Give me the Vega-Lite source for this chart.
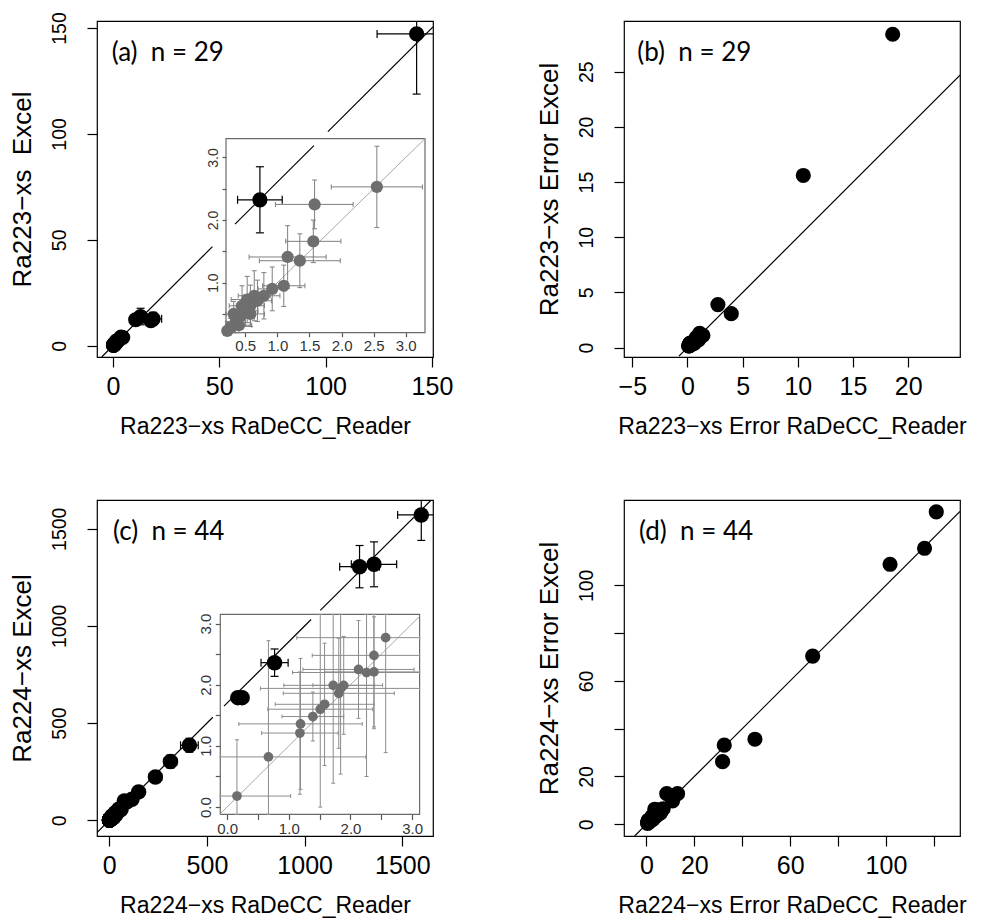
{
  "$schema": "https://vega.github.io/schema/vega-lite/v6.json",
  "background": "white",
  "padding": {"left": 8, "top": 11, "right": 5, "bottom": 5},
  "columns": 2,
  "spacing": {"row": 143, "column": 191},
  "bounds": "flush",
  "datasets": {
    "A": [
      {"x":142.8,"y":147.2,"xlo":124.2,"xhi":161.4,"ylo":118.8,"yhi":175.6},
      {"x":69.1,"y":68.9,"xlo":58.6,"xhi":79.6,"ylo":53.3,"yhi":84.5},
      {"x":10.7,"y":12.3,"xlo":9.3,"xhi":12.1,"ylo":11.2,"yhi":13.4},
      {"x":13.0,"y":13.8,"xlo":10.2,"xhi":15.8,"ylo":9.9,"yhi":17.7},
      {"x":18.9,"y":12.7,"xlo":14.9,"xhi":22.9,"ylo":9.6,"yhi":15.8},
      {"x":17.8,"y":11.9,"xlo":16.7,"xhi":18.9,"ylo":10.6,"yhi":13.2},
      {"x":3.8,"y":4.1,"xlo":3.0,"xhi":4.6,"ylo":3.2,"yhi":5.0},
      {"x":4.6,"y":3.9,"xlo":3.6,"xhi":5.6,"ylo":3.2,"yhi":4.6},
      {"x":2.55,"y":2.53,"xlo":1.84,"xhi":3.26,"ylo":1.88,"yhi":3.18},
      {"x":1.58,"y":2.25,"xlo":0.97,"xhi":2.18,"ylo":1.86,"yhi":2.64},
      {"x":1.56,"y":1.66,"xlo":1.13,"xhi":1.99,"ylo":1.32,"yhi":2.0},
      {"x":1.16,"y":1.41,"xlo":0.56,"xhi":1.76,"ylo":0.91,"yhi":1.91},
      {"x":1.35,"y":1.35,"xlo":0.72,"xhi":1.98,"ylo":0.92,"yhi":1.78},
      {"x":1.1,"y":0.95,"xlo":0.77,"xhi":1.43,"ylo":0.62,"yhi":1.28},
      {"x":0.92,"y":0.9,"xlo":0.7,"xhi":1.14,"ylo":0.55,"yhi":1.25},
      {"x":0.79,"y":0.79,"xlo":0.54,"xhi":1.04,"ylo":0.42,"yhi":1.16},
      {"x":0.69,"y":0.71,"xlo":0.47,"xhi":0.91,"ylo":0.38,"yhi":1.04},
      {"x":0.58,"y":0.63,"xlo":0.36,"xhi":0.8,"ylo":0.3,"yhi":0.96},
      {"x":0.5,"y":0.55,"xlo":0.3,"xhi":0.7,"ylo":0.3,"yhi":0.8},
      {"x":0.43,"y":0.47,"xlo":0.26,"xhi":0.6,"ylo":0.25,"yhi":0.69},
      {"x":0.35,"y":0.36,"xlo":0.2,"xhi":0.5,"ylo":0.19,"yhi":0.53},
      {"x":0.27,"y":0.28,"xlo":0.15,"xhi":0.39,"ylo":0.13,"yhi":0.43},
      {"x":0.22,"y":0.23,"xlo":0.1,"xhi":0.34,"ylo":0.08,"yhi":0.38},
      {"x":0.64,"y":0.79,"xlo":0.39,"xhi":0.89,"ylo":0.39,"yhi":1.19},
      {"x":0.53,"y":0.73,"xlo":0.28,"xhi":0.78,"ylo":0.36,"yhi":1.1},
      {"x":0.45,"y":0.63,"xlo":0.25,"xhi":0.65,"ylo":0.31,"yhi":0.95},
      {"x":0.32,"y":0.5,"xlo":0.15,"xhi":0.49,"ylo":0.3,"yhi":0.7},
      {"x":0.4,"y":0.32,"xlo":0.2,"xhi":0.6,"ylo":0.15,"yhi":0.49},
      {"x":0.58,"y":0.5,"xlo":0.36,"xhi":0.8,"ylo":0.3,"yhi":0.7}
    ],
    "B": [
      {"x":18.6,"y":28.4},{"x":10.5,"y":15.6},{"x":1.4,"y":1.1},{"x":2.76,"y":3.9},{"x":3.97,"y":3.08},
      {"x":1.1,"y":1.3},{"x":0.8,"y":0.9},{"x":1.0,"y":0.7},{"x":0.71,"y":0.65},{"x":0.6,"y":0.39},
      {"x":0.43,"y":0.34},{"x":0.6,"y":0.5},{"x":0.63,"y":0.43},{"x":0.33,"y":0.33},{"x":0.22,"y":0.35},
      {"x":0.25,"y":0.37},{"x":0.22,"y":0.33},{"x":0.22,"y":0.33},{"x":0.2,"y":0.25},{"x":0.17,"y":0.22},
      {"x":0.15,"y":0.17},{"x":0.12,"y":0.15},{"x":0.12,"y":0.15},{"x":0.25,"y":0.4},{"x":0.25,"y":0.37},
      {"x":0.2,"y":0.32},{"x":0.17,"y":0.2},{"x":0.2,"y":0.17},{"x":0.22,"y":0.2}
    ],
    "C": [
      {"x":1597,"y":1571,"xlo":1476,"xhi":1718,"ylo":1440,"yhi":1702},
      {"x":1355,"y":1317,"xlo":1239,"xhi":1471,"ylo":1201.5,"yhi":1432.5},
      {"x":1281,"y":1305,"xlo":1179.3,"xhi":1382.7,"ylo":1196.2,"yhi":1413.8},
      {"x":846,"y":811,"xlo":776.6,"xhi":915.4,"ylo":740.6,"yhi":881.4},
      {"x":658,"y":631,"xlo":652,"xhi":664,"ylo":626.1,"yhi":635.9},
      {"x":680,"y":631,"xlo":676.5,"xhi":683.5,"ylo":624.7,"yhi":637.3},
      {"x":410,"y":386,"xlo":364.7,"xhi":455.3,"ylo":350.4,"yhi":421.6},
      {"x":313,"y":302,"xlo":280.5,"xhi":345.5,"ylo":268.9,"yhi":335.1},
      {"x":236,"y":223,"xlo":204.2,"xhi":267.8,"ylo":196.8,"yhi":249.2},
      {"x":150,"y":146,"xlo":137,"xhi":163,"ylo":133.2,"yhi":158.8},
      {"x":116,"y":108,"xlo":105.1,"xhi":126.9,"ylo":98.2,"yhi":117.8},
      {"x":77,"y":99,"xlo":68.5,"xhi":85.5,"ylo":86.2,"yhi":111.8},
      {"x":48,"y":57,"xlo":46.9,"xhi":49.1,"ylo":55.6,"yhi":58.4},
      {"x":31,"y":39,"xlo":26.5,"xhi":35.5,"ylo":33.5,"yhi":44.5},
      {"x":22,"y":14,"xlo":19.2,"xhi":24.8,"ylo":11.8,"yhi":16.2},
      {"x":14,"y":22,"xlo":11.8,"xhi":16.2,"ylo":19,"yhi":25},
      {"x":5,"y":5,"xlo":3.8,"xhi":6.2,"ylo":3.5,"yhi":6.5},
      {"x":3,"y":4,"xlo":1.5,"xhi":4.5,"ylo":2.8,"yhi":5.2},
      {"x":6,"y":5,"xlo":4,"xhi":8,"ylo":3.2,"yhi":6.8},
      {"x":8,"y":10,"xlo":6.2,"xhi":9.8,"ylo":7.6,"yhi":12.4},
      {"x":10,"y":8,"xlo":7.5,"xhi":12.5,"ylo":5.9,"yhi":10.1},
      {"x":12,"y":15,"xlo":9,"xhi":15,"ylo":11.4,"yhi":18.6},
      {"x":18,"y":20,"xlo":14.2,"xhi":21.8,"ylo":16.8,"yhi":23.2},
      {"x":25,"y":22,"xlo":20.8,"xhi":29.2,"ylo":17.2,"yhi":26.8},
      {"x":35,"y":30,"xlo":29.8,"xhi":40.2,"ylo":25.6,"yhi":34.4},
      {"x":40,"y":45,"xlo":34.5,"xhi":45.5,"ylo":39,"yhi":51},
      {"x":60,"y":55,"xlo":53,"xhi":67,"ylo":48.5,"yhi":61.5},
      {"x":90,"y":95,"xlo":87.6,"xhi":92.4,"ylo":91.7,"yhi":98.3},
      {"x":0.16,"y":0.18,"xlo":-0.71,"xhi":1.03,"ylo":-0.74,"yhi":1.10},
      {"x":0.67,"y":0.82,"xlo":-0.91,"xhi":2.25,"ylo":-1.08,"yhi":2.72},
      {"x":1.18,"y":1.21,"xlo":0.56,"xhi":1.80,"ylo":0.21,"yhi":2.21},
      {"x":1.19,"y":1.36,"xlo":0.19,"xhi":2.19,"ylo":0.29,"yhi":2.43},
      {"x":1.39,"y":1.48,"xlo":0.89,"xhi":1.89,"ylo":1.08,"yhi":1.88},
      {"x":1.51,"y":1.60,"xlo":0.66,"xhi":2.36,"ylo":0.0,"yhi":3.2},
      {"x":1.58,"y":1.68,"xlo":0.78,"xhi":2.38,"ylo":0.68,"yhi":2.68},
      {"x":1.72,"y":1.99,"xlo":0.92,"xhi":2.52,"ylo":0.39,"yhi":3.59},
      {"x":1.84,"y":1.94,"xlo":0.54,"xhi":3.14,"ylo":0.54,"yhi":3.34},
      {"x":1.81,"y":1.86,"xlo":0.91,"xhi":2.71,"ylo":0.96,"yhi":2.76},
      {"x":1.89,"y":1.99,"xlo":1.39,"xhi":2.39,"ylo":1.19,"yhi":2.79},
      {"x":2.13,"y":2.25,"xlo":1.23,"xhi":3.03,"ylo":1.45,"yhi":3.05},
      {"x":2.26,"y":2.20,"xlo":1.06,"xhi":3.46,"ylo":0.5,"yhi":3.9},
      {"x":2.38,"y":2.21,"xlo":1.58,"xhi":3.18,"ylo":1.31,"yhi":3.11},
      {"x":2.38,"y":2.48,"xlo":1.38,"xhi":3.38,"ylo":1.28,"yhi":3.68},
      {"x":2.57,"y":2.77,"xlo":1.13,"xhi":4.01,"ylo":0.89,"yhi":4.65}
    ],
    "D": [
      {"x":121,"y":130.7},{"x":116.1,"y":115.5},{"x":101.7,"y":108.8},{"x":69.4,"y":70.4},{"x":6,"y":4.9},
      {"x":3.5,"y":6.3},{"x":45.3,"y":35.6},{"x":32.5,"y":33.1},{"x":31.8,"y":26.2},{"x":13,"y":12.8},
      {"x":10.9,"y":9.8},{"x":8.5,"y":12.8},{"x":1.1,"y":1.4},{"x":4.5,"y":5.5},{"x":2.8,"y":2.2},
      {"x":2.2,"y":3.0},{"x":1.2,"y":1.5},{"x":1.5,"y":1.2},{"x":2.0,"y":1.8},{"x":1.8,"y":2.4},
      {"x":2.5,"y":2.1},{"x":3.0,"y":3.6},{"x":3.8,"y":3.2},{"x":4.2,"y":4.8},{"x":5.2,"y":4.4},
      {"x":5.5,"y":6.0},{"x":7.0,"y":6.5},{"x":2.4,"y":3.3},{"x":0.87,"y":0.92},{"x":1.58,"y":1.9},
      {"x":0.62,"y":1.0},{"x":1.0,"y":1.07},{"x":0.5,"y":0.4},{"x":0.85,"y":1.6},{"x":0.8,"y":1.0},
      {"x":0.8,"y":1.6},{"x":1.3,"y":1.4},{"x":0.9,"y":0.9},{"x":0.5,"y":0.8},{"x":0.9,"y":0.8},
      {"x":1.2,"y":1.7},{"x":0.8,"y":0.9},{"x":1.0,"y":1.2},{"x":1.44,"y":1.88}
    ],
    "lineA": [{"x":-5.3,"x2":46.8},{"x":57.4,"x2":94.5},{"x":101.1,"x2":150.5}],
    "lineB": [{"x":-0.77,"x2":24.7}],
    "lineC": [{"x":-63,"x2":530},{"x":587,"x2":1033},{"x":1080,"x2":1648}],
    "lineD": [{"x":-4.9,"x2":130.9}]
  },
  "concat": [
    {
      "width": 336, "height": 336,
      "resolve": {"scale": {"x": "independent", "y": "independent"}},
      "layer": [
        {
          "layer": [
            {"data": {"values": [{}]}, "mark": {"type": "rect", "fillOpacity": 0, "stroke": "#6a6a6a", "strokeWidth": 1.2},
             "encoding": {
               "x": {"datum": 0.2, "type": "quantitative", "scale": {"domain": [0.2, 3.3], "range": [129, 328], "nice": false, "zero": false, "clamp": true},
                     "axis": {"orient": "bottom", "offset": -24.3, "title": null, "values": [0.5,1,1.5,2,2.5,3], "format": ".1f", "labelFontSize": 15, "labelColor": "#333", "tickColor": "#555", "tickSize": 4, "labelPadding": 2, "domain": false}},
               "x2": {"datum": 3.3},
               "y": {"datum": 0.2, "type": "quantitative", "scale": {"domain": [0.2, 3.3], "range": [311.7, 117.7], "nice": false, "zero": false, "clamp": true},
                     "axis": {"orient": "left", "offset": -129, "title": null, "values": [0.5,1,1.5,2,2.5,3], "labelExpr": "datum.value % 1 == 0 ? format(datum.value, '.1f') : ''", "labelFontSize": 14, "labelColor": "#333", "tickColor": "#555", "tickSize": 4, "labelPadding": 2, "domain": false}},
               "y2": {"datum": 3.3}}},
            {"data": {"values": [{}]}, "mark": {"type": "rule", "color": "#a8a8a8", "strokeWidth": 1},
             "encoding": {"x": {"datum": 0.2, "type": "quantitative"}, "x2": {"datum": 3.3}, "y": {"datum": 0.2, "type": "quantitative"}, "y2": {"datum": 3.3}}},
            {"data": {"name": "A"}, "transform": [{"filter": "datum.x <= 3.3 && datum.y <= 3.3"}],
             "mark": {"type": "rule", "color": "#7f7f7f", "strokeWidth": 1},
             "encoding": {"x": {"field": "xlo", "type": "quantitative"}, "x2": {"field": "xhi"}, "y": {"field": "y", "type": "quantitative"}}},
            {"data": {"name": "A"}, "transform": [{"filter": "datum.x <= 3.3 && datum.y <= 3.3"}],
             "mark": {"type": "rule", "color": "#7f7f7f", "strokeWidth": 1},
             "encoding": {"x": {"field": "x", "type": "quantitative"}, "y": {"field": "ylo", "type": "quantitative"}, "y2": {"field": "yhi"}}},
            {"data": {"name": "A"}, "transform": [{"filter": "datum.x <= 3.3 && datum.y <= 3.3"}],
             "mark": {"type": "tick", "orient": "vertical", "size": 5, "thickness": 1, "color": "#7f7f7f", "opacity": 1},
             "encoding": {"x": {"field": "xlo", "type": "quantitative"}, "y": {"field": "y", "type": "quantitative"}}},
            {"data": {"name": "A"}, "transform": [{"filter": "datum.x <= 3.3 && datum.y <= 3.3"}],
             "mark": {"type": "tick", "orient": "vertical", "size": 5, "thickness": 1, "color": "#7f7f7f", "opacity": 1},
             "encoding": {"x": {"field": "xhi", "type": "quantitative"}, "y": {"field": "y", "type": "quantitative"}}},
            {"data": {"name": "A"}, "transform": [{"filter": "datum.x <= 3.3 && datum.y <= 3.3"}],
             "mark": {"type": "tick", "orient": "horizontal", "size": 5, "thickness": 1, "color": "#7f7f7f", "opacity": 1},
             "encoding": {"x": {"field": "x", "type": "quantitative"}, "y": {"field": "ylo", "type": "quantitative"}}},
            {"data": {"name": "A"}, "transform": [{"filter": "datum.x <= 3.3 && datum.y <= 3.3"}],
             "mark": {"type": "tick", "orient": "horizontal", "size": 5, "thickness": 1, "color": "#7f7f7f", "opacity": 1},
             "encoding": {"x": {"field": "x", "type": "quantitative"}, "y": {"field": "yhi", "type": "quantitative"}}},
            {"data": {"name": "A"}, "transform": [{"filter": "datum.x <= 3.3 && datum.y <= 3.3"}],
             "mark": {"type": "circle", "size": 150, "color": "#6e6e6e", "opacity": 1},
             "encoding": {"x": {"field": "x", "type": "quantitative"}, "y": {"field": "y", "type": "quantitative"}}}
          ]
        },
        {
          "layer": [
            {"data": {"name": "lineA"}, "mark": {"type": "rule", "color": "black", "strokeWidth": 1.2, "clip": true},
             "encoding": {
               "x": {"field": "x", "type": "quantitative", "scale": {"domain": [-7.5, 150.5], "nice": false, "zero": false},
                     "axis": {"orient": "bottom", "values": [0, 50, 100, 150], "title": "Ra223−xs RaDeCC_Reader"}},
               "x2": {"field": "x2"},
               "y": {"field": "x", "type": "quantitative", "scale": {"domain": [-5.3, 153.3], "nice": false, "zero": false},
                     "axis": {"orient": "left", "values": [0, 50, 100, 150], "title": "Ra223−xs\u00a0\u00a0Excel"}},
               "y2": {"field": "x2"}}},
            {"data": {"name": "A"}, "mark": {"type": "rule", "color": "black", "strokeWidth": 1.2, "clip": true},
             "encoding": {"x": {"field": "xlo", "type": "quantitative"}, "x2": {"field": "xhi"}, "y": {"field": "y", "type": "quantitative"}}},
            {"data": {"name": "A"}, "mark": {"type": "rule", "color": "black", "strokeWidth": 1.2, "clip": true},
             "encoding": {"x": {"field": "x", "type": "quantitative"}, "y": {"field": "ylo", "type": "quantitative"}, "y2": {"field": "yhi"}}},
            {"data": {"name": "A"}, "mark": {"type": "tick", "orient": "vertical", "size": 8, "thickness": 1.2, "color": "black", "opacity": 1, "clip": true},
             "encoding": {"x": {"field": "xlo", "type": "quantitative"}, "y": {"field": "y", "type": "quantitative"}}},
            {"data": {"name": "A"}, "mark": {"type": "tick", "orient": "vertical", "size": 8, "thickness": 1.2, "color": "black", "opacity": 1, "clip": true},
             "encoding": {"x": {"field": "xhi", "type": "quantitative"}, "y": {"field": "y", "type": "quantitative"}}},
            {"data": {"name": "A"}, "mark": {"type": "tick", "orient": "horizontal", "size": 8, "thickness": 1.2, "color": "black", "opacity": 1, "clip": true},
             "encoding": {"x": {"field": "x", "type": "quantitative"}, "y": {"field": "ylo", "type": "quantitative"}}},
            {"data": {"name": "A"}, "mark": {"type": "tick", "orient": "horizontal", "size": 8, "thickness": 1.2, "color": "black", "opacity": 1, "clip": true},
             "encoding": {"x": {"field": "x", "type": "quantitative"}, "y": {"field": "yhi", "type": "quantitative"}}},
            {"data": {"name": "A"}, "mark": {"type": "circle", "size": 230, "color": "black", "opacity": 1, "clip": true},
             "encoding": {"x": {"field": "x", "type": "quantitative"}, "y": {"field": "y", "type": "quantitative"}}},
            {"data": {"values": [{"label": "(a)\u00a0\u00a0n = 29"}]}, "mark": {"type": "text", "font": "Lato", "fontSize": 26, "align": "left", "baseline": "alphabetic", "color": "black"},
             "encoding": {"x": {"datum": -0.59, "type": "quantitative"}, "y": {"datum": 134.6, "type": "quantitative"}, "text": {"field": "label"}}}
          ]
        }
      ]
    },
    {
      "width": 336, "height": 336,
      "layer": [
        {"data": {"name": "lineB"}, "mark": {"type": "rule", "color": "black", "strokeWidth": 1.2, "clip": true},
         "encoding": {
           "x": {"field": "x", "type": "quantitative", "scale": {"domain": [-5.75, 24.7], "nice": false, "zero": false},
                 "axis": {"orient": "bottom", "values": [-5, 0, 5, 10, 15, 20], "title": "Ra223−xs Error RaDeCC_Reader"}},
           "x2": {"field": "x2"},
           "y": {"field": "x", "type": "quantitative", "scale": {"domain": [-0.85, 29.6], "nice": false, "zero": false},
                 "axis": {"orient": "left", "values": [0, 5, 10, 15, 20, 25], "title": "Ra223−xs Error Excel"}},
           "y2": {"field": "x2"}}},
        {"data": {"name": "B"}, "mark": {"type": "circle", "size": 230, "color": "black", "opacity": 1, "clip": true},
         "encoding": {"x": {"field": "x", "type": "quantitative"}, "y": {"field": "y", "type": "quantitative"}}},
        {"data": {"values": [{"label": "(b)\u00a0\u00a0n = 29"}]}, "mark": {"type": "text", "font": "Lato", "fontSize": 26, "align": "left", "baseline": "alphabetic", "color": "black"},
         "encoding": {"x": {"datum": -4.54, "type": "quantitative"}, "y": {"datum": 26.0, "type": "quantitative"}, "text": {"field": "label"}}}
      ]
    },
    {
      "width": 336, "height": 336,
      "resolve": {"scale": {"x": "independent", "y": "independent"}},
      "layer": [
        {
          "layer": [
            {"data": {"values": [{}]}, "mark": {"type": "rect", "fillOpacity": 0, "stroke": "#6a6a6a", "strokeWidth": 1.2},
             "encoding": {
               "x": {"datum": -0.11, "type": "quantitative", "scale": {"domain": [-0.11, 3.12], "range": [123.3, 322.6], "nice": false, "zero": false, "clamp": true},
                     "axis": {"orient": "bottom", "offset": -21.6, "title": null, "values": [0,0.5,1,1.5,2,2.5,3], "labelExpr": "datum.value % 1 == 0 ? format(datum.value, '.1f') : ''", "labelFontSize": 15, "labelColor": "#333", "tickColor": "#555", "tickSize": 5, "labelPadding": 2, "domain": false}},
               "x2": {"datum": 3.12},
               "y": {"datum": -0.12, "type": "quantitative", "scale": {"domain": [-0.12, 3.15], "range": [314.4, 114.4], "nice": false, "zero": false, "clamp": true},
                     "axis": {"orient": "left", "offset": -123.3, "title": null, "values": [0,0.5,1,1.5,2,2.5,3], "labelExpr": "datum.value % 1 == 0 ? format(datum.value, '.1f') : ''", "labelFontSize": 15, "labelColor": "#333", "tickColor": "#555", "tickSize": 5, "labelPadding": 2, "domain": false}},
               "y2": {"datum": 3.15}}},
            {"data": {"values": [{}]}, "mark": {"type": "rule", "color": "#a8a8a8", "strokeWidth": 1},
             "encoding": {"x": {"datum": -0.11, "type": "quantitative"}, "x2": {"datum": 3.12}, "y": {"datum": -0.11, "type": "quantitative"}, "y2": {"datum": 3.12}}},
            {"data": {"name": "C"}, "transform": [{"filter": "datum.x <= 3.2 && datum.y <= 3.2"}],
             "mark": {"type": "rule", "color": "#8c8c8c", "strokeWidth": 1},
             "encoding": {"x": {"field": "xlo", "type": "quantitative"}, "x2": {"field": "xhi"}, "y": {"field": "y", "type": "quantitative"}}},
            {"data": {"name": "C"}, "transform": [{"filter": "datum.x <= 3.2 && datum.y <= 3.2"}],
             "mark": {"type": "rule", "color": "#8c8c8c", "strokeWidth": 1},
             "encoding": {"x": {"field": "x", "type": "quantitative"}, "y": {"field": "ylo", "type": "quantitative"}, "y2": {"field": "yhi"}}},
            {"data": {"name": "C"}, "transform": [{"filter": "datum.x <= 3.2 && datum.y <= 3.2"}],
             "mark": {"type": "tick", "orient": "vertical", "size": 4, "thickness": 1, "color": "#8c8c8c", "opacity": 1},
             "encoding": {"x": {"field": "xlo", "type": "quantitative"}, "y": {"field": "y", "type": "quantitative"}}},
            {"data": {"name": "C"}, "transform": [{"filter": "datum.x <= 3.2 && datum.y <= 3.2"}],
             "mark": {"type": "tick", "orient": "vertical", "size": 4, "thickness": 1, "color": "#8c8c8c", "opacity": 1},
             "encoding": {"x": {"field": "xhi", "type": "quantitative"}, "y": {"field": "y", "type": "quantitative"}}},
            {"data": {"name": "C"}, "transform": [{"filter": "datum.x <= 3.2 && datum.y <= 3.2"}],
             "mark": {"type": "tick", "orient": "horizontal", "size": 4, "thickness": 1, "color": "#8c8c8c", "opacity": 1},
             "encoding": {"x": {"field": "x", "type": "quantitative"}, "y": {"field": "ylo", "type": "quantitative"}}},
            {"data": {"name": "C"}, "transform": [{"filter": "datum.x <= 3.2 && datum.y <= 3.2"}],
             "mark": {"type": "tick", "orient": "horizontal", "size": 4, "thickness": 1, "color": "#8c8c8c", "opacity": 1},
             "encoding": {"x": {"field": "x", "type": "quantitative"}, "y": {"field": "yhi", "type": "quantitative"}}},
            {"data": {"name": "C"}, "transform": [{"filter": "datum.x <= 3.2 && datum.y <= 3.2"}],
             "mark": {"type": "circle", "size": 95, "color": "#6e6e6e", "opacity": 1},
             "encoding": {"x": {"field": "x", "type": "quantitative"}, "y": {"field": "y", "type": "quantitative"}}}
          ]
        },
        {
          "layer": [
            {"data": {"name": "lineC"}, "mark": {"type": "rule", "color": "black", "strokeWidth": 1.2, "clip": true},
             "encoding": {
               "x": {"field": "x", "type": "quantitative", "scale": {"domain": [-63, 1657], "nice": false, "zero": false},
                     "axis": {"orient": "bottom", "values": [0, 500, 1000, 1500], "format": "d", "title": "Ra224−xs RaDeCC_Reader"}},
               "x2": {"field": "x2"},
               "y": {"field": "x", "type": "quantitative", "scale": {"domain": [-81, 1648], "nice": false, "zero": false},
                     "axis": {"orient": "left", "values": [0, 500, 1000, 1500], "format": "d", "title": "Ra224−xs Excel"}},
               "y2": {"field": "x2"}}},
            {"data": {"name": "C"}, "mark": {"type": "rule", "color": "black", "strokeWidth": 1.2, "clip": true},
             "encoding": {"x": {"field": "xlo", "type": "quantitative"}, "x2": {"field": "xhi"}, "y": {"field": "y", "type": "quantitative"}}},
            {"data": {"name": "C"}, "mark": {"type": "rule", "color": "black", "strokeWidth": 1.2, "clip": true},
             "encoding": {"x": {"field": "x", "type": "quantitative"}, "y": {"field": "ylo", "type": "quantitative"}, "y2": {"field": "yhi"}}},
            {"data": {"name": "C"}, "mark": {"type": "tick", "orient": "vertical", "size": 8, "thickness": 1.2, "color": "black", "opacity": 1, "clip": true},
             "encoding": {"x": {"field": "xlo", "type": "quantitative"}, "y": {"field": "y", "type": "quantitative"}}},
            {"data": {"name": "C"}, "mark": {"type": "tick", "orient": "vertical", "size": 8, "thickness": 1.2, "color": "black", "opacity": 1, "clip": true},
             "encoding": {"x": {"field": "xhi", "type": "quantitative"}, "y": {"field": "y", "type": "quantitative"}}},
            {"data": {"name": "C"}, "mark": {"type": "tick", "orient": "horizontal", "size": 8, "thickness": 1.2, "color": "black", "opacity": 1, "clip": true},
             "encoding": {"x": {"field": "x", "type": "quantitative"}, "y": {"field": "ylo", "type": "quantitative"}}},
            {"data": {"name": "C"}, "mark": {"type": "tick", "orient": "horizontal", "size": 8, "thickness": 1.2, "color": "black", "opacity": 1, "clip": true},
             "encoding": {"x": {"field": "x", "type": "quantitative"}, "y": {"field": "yhi", "type": "quantitative"}}},
            {"data": {"name": "C"}, "mark": {"type": "circle", "size": 240, "color": "black", "opacity": 1, "clip": true},
             "encoding": {"x": {"field": "x", "type": "quantitative"}, "y": {"field": "y", "type": "quantitative"}}},
            {"data": {"values": [{"label": "(c)\u00a0\u00a0n = 44"}]}, "mark": {"type": "text", "font": "Lato", "fontSize": 26, "align": "left", "baseline": "alphabetic", "color": "black"},
             "encoding": {"x": {"datum": 18.9, "type": "quantitative"}, "y": {"datum": 1440, "type": "quantitative"}, "text": {"field": "label"}}}
          ]
        }
      ]
    },
    {
      "width": 336, "height": 336,
      "layer": [
        {"data": {"name": "lineD"}, "mark": {"type": "rule", "color": "black", "strokeWidth": 1.2, "clip": true},
         "encoding": {
           "x": {"field": "x", "type": "quantitative", "scale": {"domain": [-9.35, 130.9], "nice": false, "zero": false},
                 "axis": {"orient": "bottom", "values": [0, 20, 40, 60, 80, 100, 120], "labelExpr": "datum.value == 40 || datum.value == 80 || datum.value == 120 ? '' : datum.label", "title": "Ra224−xs Error RaDeCC_Reader"}},
           "x2": {"field": "x2"},
           "y": {"field": "x", "type": "quantitative", "scale": {"domain": [-4.9, 135.7], "nice": false, "zero": false},
                 "axis": {"orient": "left", "values": [0, 20, 40, 60, 80, 100], "labelExpr": "datum.value == 40 || datum.value == 80 ? '' : datum.label", "title": "Ra224−xs Error Excel"}},
           "y2": {"field": "x2"}}},
        {"data": {"name": "D"}, "mark": {"type": "circle", "size": 230, "color": "black", "opacity": 1, "clip": true},
         "encoding": {"x": {"field": "x", "type": "quantitative"}, "y": {"field": "y", "type": "quantitative"}}},
        {"data": {"values": [{"label": "(d)\u00a0\u00a0n = 44"}]}, "mark": {"type": "text", "font": "Lato", "fontSize": 26, "align": "left", "baseline": "alphabetic", "color": "black"},
         "encoding": {"x": {"datum": -3.09, "type": "quantitative"}, "y": {"datum": 118.8, "type": "quantitative"}, "text": {"field": "label"}}}
      ]
    }
  ],
  "config": {
    "view": {"stroke": "black", "strokeWidth": 1.2},
    "font": "Liberation Sans",
    "axis": {"grid": false, "domain": false, "tickColor": "black", "tickWidth": 1.2, "labelColor": "black", "titleColor": "black", "titleFontWeight": "normal", "tickSize": 10, "labelFlush": false, "labelOverlap": false, "labelFont": "Liberation Sans", "titleFont": "Liberation Sans"},
    "axisX": {"labelFontSize": 25, "titleFontSize": 23, "labelPadding": 7, "titlePadding": 16, "labelAngle": 0},
    "axisY": {"labelFontSize": 19.5, "titleFontSize": 26, "labelAngle": 270, "labelAlign": "center", "labelBaseline": "bottom", "labelPadding": 18, "titlePadding": 14}
  }
}
